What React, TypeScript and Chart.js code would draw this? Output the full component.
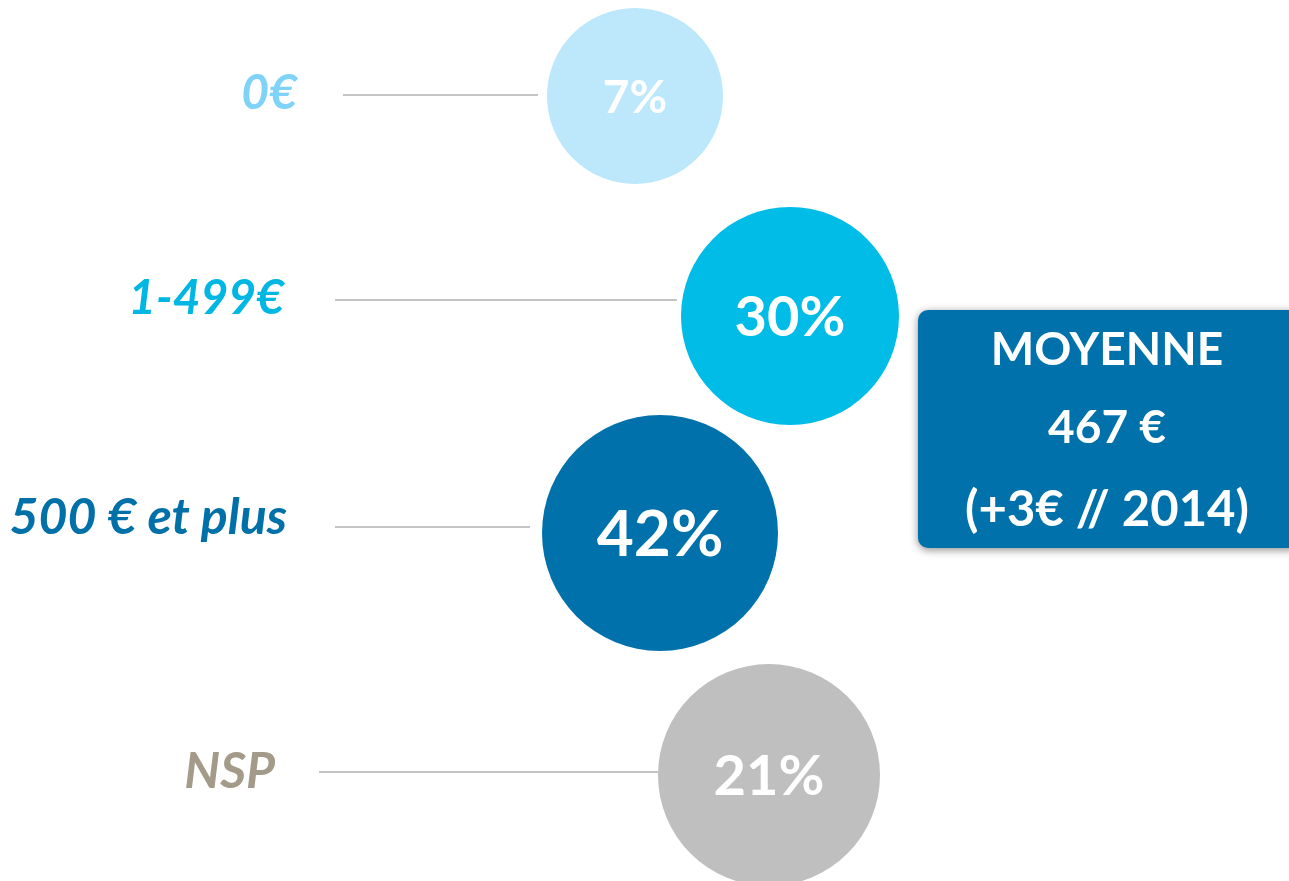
import React, { useEffect, useRef } from "react";
import { Chart, registerables } from "chart.js";

Chart.register(...registerables);

// ---- data ----
const categories = ["0€", "1-499€", "500 € et plus", "NSP"];
const values = [7, 30, 42, 21];
const averageLines = ["MOYENNE", "467 €", "(+3€ // 2014)"];

// ---- layout (pixel-space scale units) ----
const bubbleX = [635, 790, 660, 769];
const bubbleY = [96, 316, 533, 775];
const bubbleR = [88, 109, 118, 111];
const labelRight = [297, 284, 287, 275];
const labelY = [94, 299, 518, 772];
const lineStart = [343, 335, 335, 319];
const lineEnd = [538, 677, 530, 658];
const lineY = [95, 300, 527, 772];
const labelFont = [48, 48, 50, 50];
const valueFont = [46, 56, 64, 56];
const averageY = [350, 428, 510];
const averageFont = [46, 46, 49];

// ---- styles ----
const bubbleColors = ["#BDE8FC", "#00BCE6", "#0071AA", "#BFBFBF"];
const labelColors = ["#7FD3F8", "#00B6E3", "#0070A8", "#A39A8A"];
const FONT = "Lato, 'Open Sans', 'DejaVu Sans', sans-serif";

const overlayPlugin = {
  id: "overlay",
  beforeDatasetsDraw(chart: any) {
    const { ctx, scales } = chart;
    const xs = scales.x;
    const ys = scales.y;
    ctx.save();
    // connector lines
    ctx.strokeStyle = "#C4C4C4";
    ctx.lineWidth = 2;
    categories.forEach((_, i) => {
      const y = Math.round(ys.getPixelForValue(lineY[i]));
      ctx.beginPath();
      ctx.moveTo(xs.getPixelForValue(lineStart[i]), y);
      ctx.lineTo(xs.getPixelForValue(lineEnd[i]), y);
      ctx.stroke();
    });
    // category labels
    ctx.textAlign = "right";
    ctx.textBaseline = "middle";
    categories.forEach((c, i) => {
      ctx.fillStyle = labelColors[i];
      ctx.font = `italic bold ${labelFont[i]}px ${FONT}`;
      ctx.fillText(c, xs.getPixelForValue(labelRight[i]), ys.getPixelForValue(labelY[i]));
    });
    ctx.restore();
  },
  afterDatasetsDraw(chart: any) {
    const { ctx, scales } = chart;
    const xs = scales.x;
    const ys = scales.y;
    const meta = chart.getDatasetMeta(0);
    ctx.save();
    ctx.fillStyle = "#FFFFFF";
    ctx.textAlign = "center";
    ctx.textBaseline = "middle";
    meta.data.forEach((el: any, i: number) => {
      ctx.font = `bold ${valueFont[i]}px ${FONT}`;
      ctx.fillText(values[i] + "%", el.x, el.y + 2);
    });
    // average box
    const bx = xs.getPixelForValue(918);
    const by = ys.getPixelForValue(310);
    const bw = xs.getPixelForValue(1300) - bx;
    const bh = ys.getPixelForValue(548) - by;
    ctx.save();
    ctx.shadowColor = "rgba(0,0,0,0.45)";
    ctx.shadowBlur = 8;
    ctx.shadowOffsetX = 0;
    ctx.shadowOffsetY = 2;
    ctx.fillStyle = "#0071AA";
    ctx.beginPath();
    ctx.roundRect(bx, by, bw, bh, 10);
    ctx.fill();
    ctx.restore();
    ctx.fillStyle = "#FFFFFF";
    const cx = xs.getPixelForValue(1107);
    averageLines.forEach((t, i) => {
      ctx.font = `bold ${averageFont[i]}px ${FONT}`;
      ctx.fillText(t, cx, ys.getPixelForValue(averageY[i]));
    });
    ctx.restore();
  },
};

export default function App() {
  const ref = useRef<HTMLCanvasElement>(null);
  useEffect(() => {
    document.body.style.margin = "0";
    const chart = new Chart(ref.current!, {
      type: "bubble",
      data: {
        datasets: [
          {
            data: values.map((v, i) => ({ x: bubbleX[i], y: bubbleY[i], r: bubbleR[i], v })),
            backgroundColor: bubbleColors,
            borderWidth: 0,
            hoverBorderWidth: 0,
          } as any,
        ],
      },
      options: {
        responsive: false,
        animation: false,
        layout: { padding: 0, autoPadding: false } as any,
        clip: false as any,
        plugins: { legend: { display: false }, tooltip: { enabled: false } },
        scales: {
          x: { type: "linear", min: 0, max: 1289, display: false },
          y: { type: "linear", min: 0, max: 881, reverse: true, display: false },
        },
      },
      plugins: [overlayPlugin],
    });
    return () => chart.destroy();
  }, []);
  return <canvas ref={ref} width={1289} height={881} style={{ display: "block" }} />;
}
